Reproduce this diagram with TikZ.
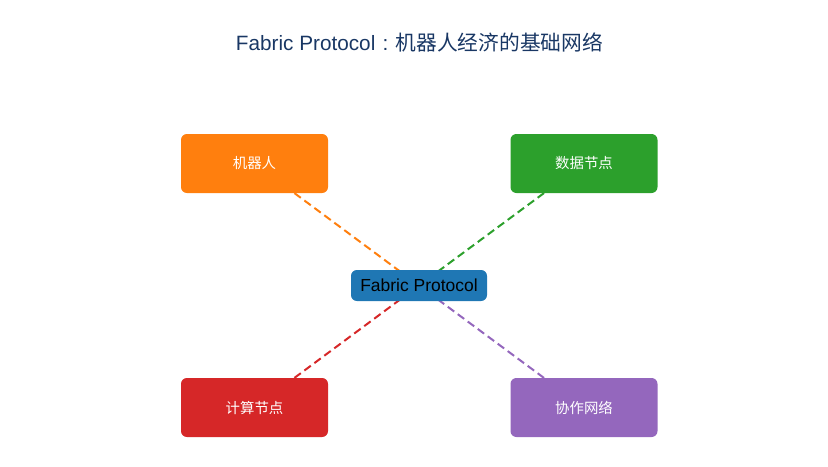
\documentclass[tikz,border=0pt]{standalone}
\usepackage{fontspec}
\setmainfont{Liberation Sans}
\newfontfamily\cjk{Noto Sans CJK SC}
\usetikzlibrary{backgrounds}
\definecolor{tabblue}{HTML}{1F77B4}
\definecolor{taborange}{HTML}{FF7F0E}
\definecolor{tabgreen}{HTML}{2CA02C}
\definecolor{tabred}{HTML}{D62728}
\definecolor{tabpurple}{HTML}{9467BD}
\definecolor{titlecol}{RGB}{25,55,100}
\tikzset{
  part/.style={rounded corners=5pt, minimum width=147*0.03cm, minimum height=59*0.03cm, text=white, font=\cjk\fontsize{12.3}{14}\selectfont},
  hub/.style={rounded corners=5pt, fill=tabblue, minimum width=136*0.03cm, minimum height=31*0.03cm, font=\fontsize{14.9}{17}\selectfont},
  link/.style={line width=1.7pt, dash pattern=on 6.8pt off 3.8pt}
}
\begin{document}
\begin{tikzpicture}[x=0.03cm,y=-0.03cm]
\useasboundingbox (0,0) rectangle (828,466);
\node [text=titlecol, font=\fontsize{17.7}{21}\selectfont] (title) at (419.5,42) {Fabric Protocol\hspace{0.35em}:\hspace{0.35em}{\cjk 机器人经济的基础网络}};
\node [hub] (fp) at (419,285.5) {Fabric Protocol};
\node [part, fill=taborange] (robot) at (254.5,163.5) {机器人};
\node [part, fill=tabgreen] (data) at (584,163.5) {数据节点};
\node [part, fill=tabred] (compute) at (254.5,407.5) {计算节点};
\node [part, fill=tabpurple] (coop) at (584,407.5) {协作网络};
\begin{scope}[on background layer]
\draw [link, taborange] (robot.center) -- (fp.center);
\draw [link, tabgreen] (data.center) -- (fp.center);
\draw [link, tabred] (compute.center) -- (fp.center);
\draw [link, tabpurple] (coop.center) -- (fp.center);
\end{scope}
\end{tikzpicture}
\end{document}
